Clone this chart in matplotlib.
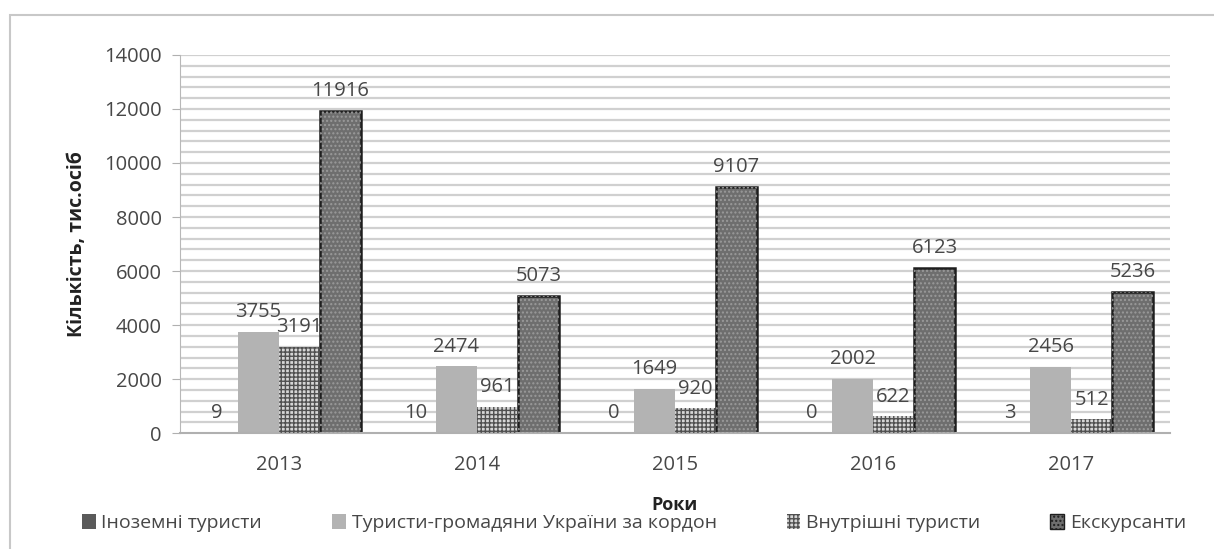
import matplotlib.pyplot as plt
import matplotlib.patches as mpatches
import numpy as np

years = ['2013', '2014', '2015', '2016', '2017']
foreign = [9, 10, 0, 0, 3]
outbound = [3755, 2474, 1649, 2002, 2456]
domestic = [3191, 961, 920, 622, 512]
excursion = [11916, 5073, 9107, 6123, 5236]

series_names = ['Іноземні туристи', 'Туристи-громадяни України за кордон',
                'Внутрішні туристи', 'Екскурсанти']

plt.rcParams['font.family'] = ['Open Sans', 'DejaVu Sans']
text_col = '#474747'

fig = plt.figure(figsize=(12.14, 5.49), dpi=100)
ax = fig.add_axes([0.148, 0.211, 0.816, 0.689])

# faint frame around the whole chart
fig.patches.append(mpatches.Rectangle((10 / 1214, -0.05), 1.1, 1 - 15 / 549 + 0.05,
                                      transform=fig.transFigure, fill=False,
                                      edgecolor='#c8c8c8', linewidth=1.5))

x = np.arange(len(years))
w = 0.207
offs = [-1.5 * w, -0.5 * w, 0.5 * w, 1.5 * w]

# gridlines every 400
for g in np.arange(400, 14001, 400):
    ax.axhline(g, color='#d0d0d0', linewidth=1.6, zorder=0)

ax.bar(x + offs[0], foreign, w, color='#5a5a5a', zorder=2)
ax.bar(x + offs[1], outbound, w, color='#b3b3b3', zorder=2)
ax.bar(x + offs[2], domestic, w, color='#d6d6d6', zorder=2)
ax.bar(x + offs[2], domestic, w, color='none', edgecolor='#505050',
       hatch='++++', linewidth=0, zorder=3)
ax.bar(x + offs[3], excursion, w, color='#6e6e6e', edgecolor='#1e1e1e',
       linewidth=1.8, zorder=2)
ax.bar(x + offs[3], excursion, w, color='none', edgecolor='#9a9a9a',
       hatch='....', linewidth=0, zorder=3)

for vals, off in zip([foreign, outbound, domestic, excursion], offs):
    for xi, v in zip(x, vals):
        ax.annotate(str(v), (xi + off, v), xytext=(0, 7), textcoords='offset points',
                    ha='center', va='bottom', fontsize=14.5, color=text_col, zorder=5)

ax.set_xlim(-0.5, 4.5)
ax.set_ylim(0, 14000)
ax.set_yticks(np.arange(0, 14001, 2000))
ax.set_xticks(x)
ax.set_xticklabels(years)
ax.tick_params(axis='y', length=6, color='#b0b0b0', labelsize=14.5, labelcolor=text_col, pad=7)
ax.tick_params(axis='x', length=0, labelsize=14.5, labelcolor=text_col, pad=16)
for s in ['top', 'right']:
    ax.spines[s].set_visible(False)
ax.spines['left'].set_color('#b8b8b8')
ax.spines['bottom'].set_color('#b0b0b0')
ax.spines['bottom'].set_linewidth(1.5)

ax.set_ylabel('Кількість, тис.осіб', fontsize=14, fontweight='bold', color='#222222', labelpad=12)
ax.set_xlabel('Роки', fontsize=13, fontweight='bold', color='#222222', labelpad=15)

handles = [mpatches.Patch(facecolor='#5a5a5a'),
           mpatches.Patch(facecolor='#b3b3b3'),
           mpatches.Patch(facecolor='#d6d6d6', edgecolor='#505050', hatch='++++', linewidth=0),
           mpatches.Patch(facecolor='#6e6e6e', edgecolor='#1e1e1e', hatch='....', linewidth=1)]
leg = fig.legend(handles, series_names, loc='center', bbox_to_anchor=(634 / 1214, 1 - 523 / 549),
                 ncol=4, frameon=False, fontsize=14, handlelength=0.7, handleheight=0.8,
                 handletextpad=0.3, columnspacing=3.6)
for t in leg.get_texts():
    t.set_color(text_col)

fig.savefig('out.png', dpi=100)
